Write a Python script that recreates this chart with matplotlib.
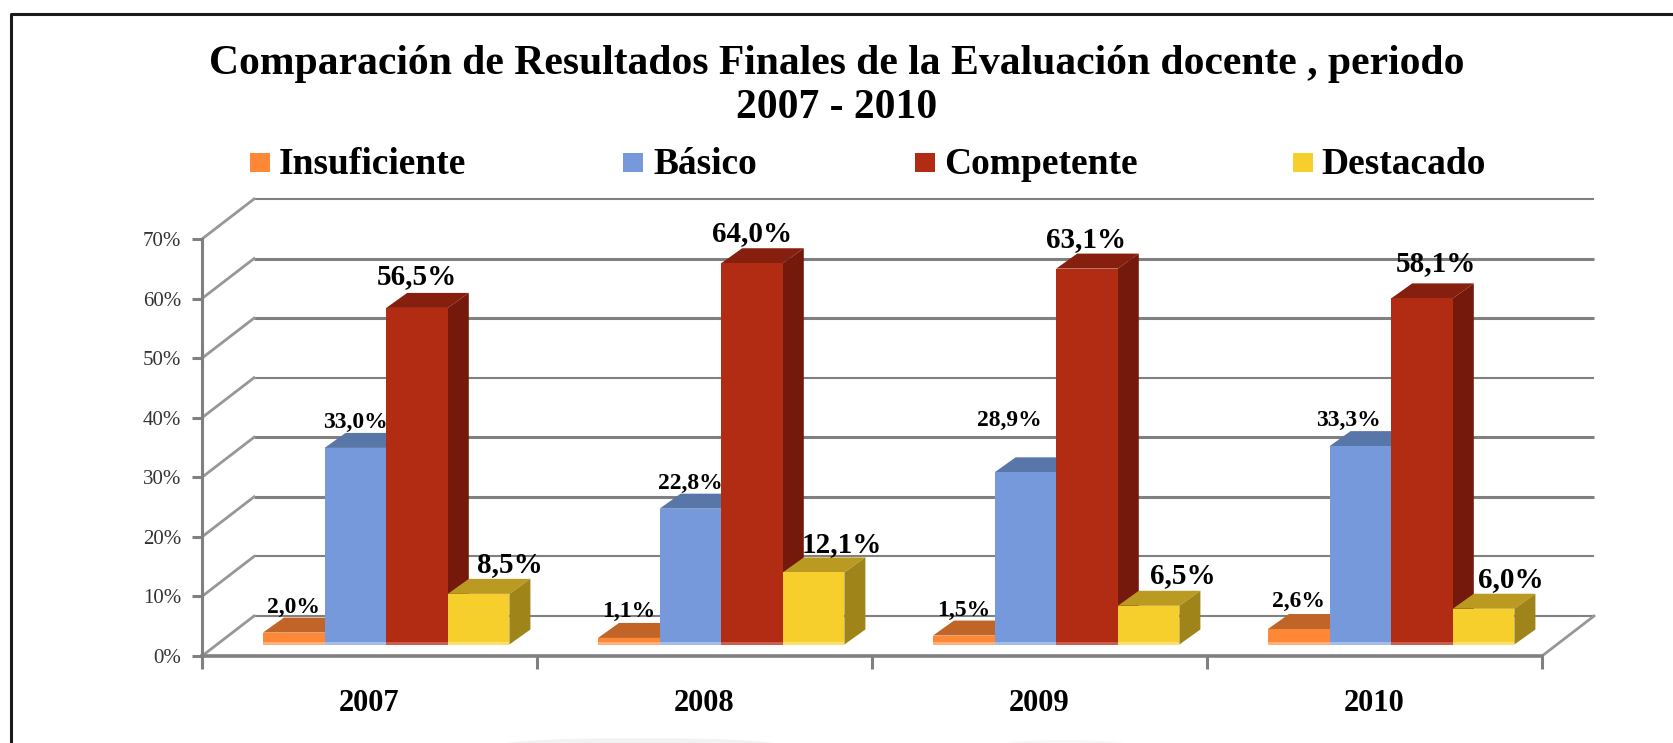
import numpy as np
import matplotlib
matplotlib.use("Agg")
import matplotlib.pyplot as plt
from matplotlib.patches import Rectangle, Ellipse

years = ["2007", "2008", "2009", "2010"]
series = ["Insuficiente", "Básico", "Competente", "Destacado"]
insuficiente = [2.0, 1.1, 1.5, 2.6]
basico = [33.0, 22.8, 28.9, 33.3]
competente = [56.5, 64.0, 63.1, 58.1]
destacado = [8.5, 12.1, 6.5, 6.0]
yticks = [0, 10, 20, 30, 40, 50, 60, 70]
title = "Comparación de Resultados Finales de la Evaluación docente , periodo\n2007 - 2010"

# colours: front, top, side, base strip
colors = [("#FF8836", "#C06428", "#C06428", "#FFB07A"),
          ("#7699DB", "#5876A8", "#5876A8", "#A3BCE8"),
          ("#B22C14", "#861F0E", "#74190B", "#C9604E"),
          ("#F6CF2C", "#BA9A20", "#9F841A", "#FADF70")]
grid_w = [1.5, 1.5, 2.2, 2.2, 1.5, 2.2, 2.2, 1.5]

# label nudges in pixels, one row per series
lab_dx = [[0, 0, 0, 0], [0, 0, -16, -12], [0, 0, -1, 14], [31, 28, 34, 27]]
lab_dy = [[1, 2, 1, 3], [1, 1, 27, 1], [4, 2, 2, 7], [2, 0, 3, 2]]
lab_size = [17, 17, 21, 21]

W, H = 1673, 743
fig = plt.figure(figsize=(W / 100, H / 100), dpi=100, facecolor="white")
plt.rcParams["font.family"] = ["Liberation Serif"]
ax = fig.add_axes([202 / W, (H - 656) / H, 1340 / W, 417 / H])
ax.set_xlim(0, 4)
ax.set_ylim(0, 70)
ax.patch.set_visible(False)

# depth of the box and of the bars, in data units
dx_box, dy_box = 52 / 335, 40 * 70 / 417
dx_bar, dy_bar = 21 / 335, 15 * 70 / 417
floor = 11.5 * 70 / 417
bar_w = 61.6 / 335
first = 61 / 335
grey = "#808080"

# walls
for t, lw in zip(yticks, grid_w):
    ax.plot([dx_box, 4 + dx_box], [t + dy_box, t + dy_box], color=grey, lw=lw, clip_on=False, zorder=1, solid_capstyle="butt")
    ax.plot([0, dx_box], [t, t + dy_box], color="#979797", lw=2, clip_on=False, zorder=1)
ax.plot([4, 4 + dx_box], [0, dy_box], color="#979797", lw=2, clip_on=False, zorder=1)

# bars, back to front so each one covers the side of the one before
data = [insuficiente, basico, competente, destacado]
for k in range(4):
    vals = np.array(data[k])
    for i in range(4):
        x0 = i + first + k * bar_w
        v = vals[i]
        front, top, side, base = colors[k]
        ax.fill([x0, x0 + dx_bar, x0 + bar_w + dx_bar, x0 + bar_w],
                [v + floor, v + floor + dy_bar, v + floor + dy_bar, v + floor],
                color=top, lw=0, clip_on=False, zorder=3 + k)
        ax.fill([x0 + bar_w, x0 + bar_w + dx_bar, x0 + bar_w + dx_bar, x0 + bar_w],
                [floor, floor + dy_bar, v + floor + dy_bar, v + floor],
                color=side, lw=0, clip_on=False, zorder=3 + k)
    ax.bar(np.arange(4) + first + k * bar_w, vals, bar_w, bottom=floor, align="edge",
           color=colors[k][0], clip_on=False, zorder=3 + k, label=series[k])
    ax.bar(np.arange(4) + first + k * bar_w, 0.4, bar_w, bottom=floor, align="edge",
           color=colors[k][3], clip_on=False, zorder=3 + k)

# value labels
for k in range(4):
    for i in range(4):
        x0 = i + first + k * bar_w + bar_w / 2
        txt = ("%.1f%%" % data[k][i]).replace(".", ",")
        ax.annotate(txt, (x0, data[k][i] + floor + dy_bar), xytext=(lab_dx[k][i] * 0.72, (lab_dy[k][i] - 1) * 0.72),
                    textcoords="offset points", ha="center", va="bottom", fontsize=lab_size[k],
                    fontweight="bold", color="black", zorder=10, annotation_clip=False)

# axes
for s in ["top", "right"]:
    ax.spines[s].set_visible(False)
ax.spines["left"].set_color(grey)
ax.spines["left"].set_linewidth(2.2)
ax.spines["bottom"].set_color(grey)
ax.spines["bottom"].set_linewidth(2.6)
ax.set_yticks(yticks)
ax.set_yticklabels(["%d%%" % t for t in yticks], fontsize=15, color="#333333")
ax.set_xticks(range(5))
ax.set_xticklabels([])
ax.set_xticks(np.arange(4) + 0.5, minor=True)
ax.set_xticklabels(years, minor=True, fontsize=22, fontweight="bold")
ax.tick_params(axis="y", length=7, width=2.2, color=grey, pad=8)
ax.tick_params(axis="x", which="major", length=9, width=2.2, color=grey)
ax.tick_params(axis="x", which="minor", length=0, pad=24)

# title and legend
fig.text(837 / W, 1 - 86 / H, title, ha="center", va="center", fontsize=30, fontweight="bold", linespacing=1.18)
sq_x = [250, 623, 915, 1293]
tx_x = [279, 653, 944, 1321]
for k in range(4):
    fig.add_artist(Rectangle((sq_x[k] / W, 1 - 172 / H), 20 / W, 19 / H, color=colors[k][0], lw=0, transform=fig.transFigure))
    fig.text(tx_x[k] / W, 1 - 164 / H, series[k], ha="left", va="center", fontsize=27, fontweight="bold")

# faint smudge at the bottom edge
fig.add_artist(Ellipse((640 / W, 1 - 745 / H), 280 / W, 14 / H, color="#f2f2f2", lw=0, transform=fig.transFigure))
fig.add_artist(Ellipse((1065 / W, 1 - 744 / H), 120 / W, 8 / H, color="#f7f7f7", lw=0, transform=fig.transFigure))

# outer frame: only left and top sides
fig.add_artist(plt.Line2D([11 / W, 11 / W, 1], [0, 1 - 14 / H, 1 - 14 / H], color="#1a1a1a", lw=2.2))

fig.savefig("out.png", dpi=100)
